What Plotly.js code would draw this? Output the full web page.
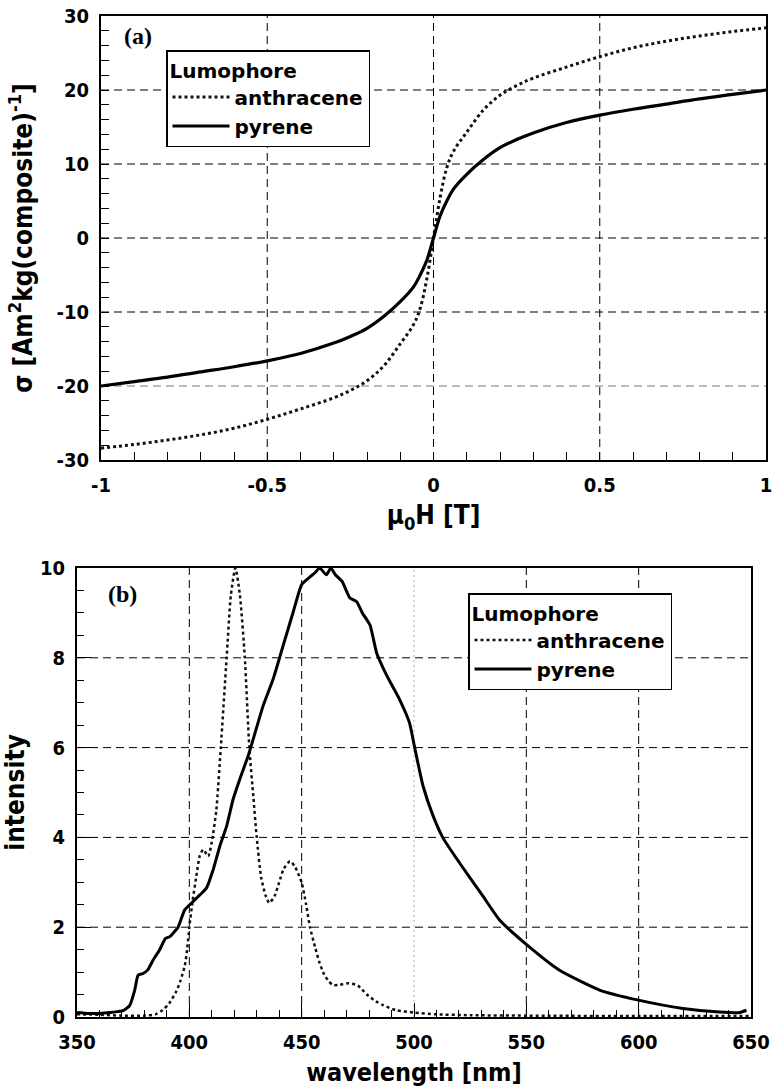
<!DOCTYPE html>
<html><head><meta charset="utf-8">
<script src="https://cdn.plot.ly/plotly-3.0.1.min.js"></script>
<style>html,body{margin:0;padding:0;background:#fff}#chart{width:772px;height:1091px}</style>
</head><body><div id="chart"></div>
<script>
// ---------- panel (a): magnetisation curves ----------
const fieldT = [-1, -0.9, -0.8, -0.7, -0.6, -0.5, -0.4, -0.3, -0.25, -0.2, -0.15, -0.1, -0.06, -0.04, -0.02, 0,
                0.02, 0.04, 0.06, 0.1, 0.15, 0.2, 0.25, 0.3, 0.4, 0.5, 0.6, 0.7, 0.8, 0.9, 1];
const magAnthracene = [-28.4, -27.9, -27.3, -26.6, -25.7, -24.5, -23.1, -21.6, -20.6, -19.3, -17.3, -14.3, -11.7, -9.5, -5.5, 0,
                       5.5, 9.5, 11.7, 14.3, 17.3, 19.3, 20.6, 21.6, 23.1, 24.5, 25.7, 26.6, 27.3, 27.9, 28.4];
const magPyrene = [-20.0, -19.4, -18.8, -18.1, -17.4, -16.6, -15.6, -14.2, -13.3, -12.2, -10.6, -8.6, -6.6, -5.0, -3.0, 0,
                   3.0, 5.0, 6.6, 8.6, 10.6, 12.2, 13.3, 14.2, 15.6, 16.6, 17.4, 18.1, 18.8, 19.4, 20.0];
const xTicksA = [-1, -0.5, 0, 0.5, 1];
const xTickTextA = ['-1', '-0.5', '0', '0.5', '1'];
const yTicksA = [-30, -20, -10, 0, 10, 20, 30];
const yTickTextA = ['-30', '-20', '-10', '0', '10', '20', '30'];
const gridXA = [-0.5, 0, 0.5];
const gridYA = [-20, -10, 0, 10, 20];

// ---------- panel (b): emission spectra ----------
const wlAnthracene = [350, 360, 370, 380, 385, 388, 391, 394, 396, 398, 399, 400, 401.5, 403, 404.7, 406.2, 408.4, 410, 412, 414,
                      416.6, 418.5, 420.5, 422.5, 424.7, 426.7, 428.5, 430, 432, 434, 435.6, 438, 440, 442, 444.8, 447, 450,
                      452, 453.7, 456, 458, 460, 462, 464, 467, 471, 475, 479, 483, 486.4, 492, 500, 510, 525, 550, 600, 650];
const intAnthracene = [0.06, 0.05, 0.03, 0.03, 0.06, 0.15, 0.3, 0.55, 0.8, 1.15, 1.5, 2.0, 2.6, 3.1, 3.6, 3.73, 3.58, 3.9, 4.6, 6.0,
                       8.0, 9.4, 10.0, 9.4, 8.0, 6.0, 4.9, 4.0, 3.1, 2.7, 2.54, 2.7, 3.0, 3.3, 3.47, 3.35, 2.99,
                       2.5, 2.0, 1.55, 1.2, 0.95, 0.8, 0.71, 0.72, 0.75, 0.7, 0.5, 0.35, 0.26, 0.15, 0.1, 0.06, 0.04, 0.03, 0.02, 0.02];
const wlPyrene = [350, 355, 360, 365, 368, 370.5, 373.5, 375.7, 377.2, 379.4, 381.5, 383.9, 386.8, 389.4, 391.3, 393, 395, 398, 401,
                  404.7, 407.6, 410.6, 413.6, 416.6, 419.5, 422.5, 426.2, 428.5, 432.9, 437.4, 441.8, 446.3, 450, 453.7, 456, 458, 461,
                  463, 465, 468, 471.5, 474.5, 477, 480.4, 483.4, 486, 489.4, 493.6, 498, 500.3, 504, 508.5, 512.9, 520.3, 530.7, 538.1,
                  550.4, 564.8, 582.6, 600.4, 619.7, 636, 645, 648];
const intPyrene = [0.1, 0.08, 0.08, 0.1, 0.12, 0.14, 0.26, 0.6, 0.93, 0.97, 1.05, 1.27, 1.5, 1.75, 1.79, 1.88, 2.0, 2.39, 2.54,
                   2.72, 2.87, 3.28, 3.81, 4.25, 4.85, 5.3, 5.82, 6.2, 6.94, 7.54, 8.28, 9.03, 9.63, 9.8, 9.9, 10.0, 9.85,
                   10.0, 9.85, 9.7, 9.33, 9.25, 9.0, 8.73, 8.1, 7.8, 7.46, 7.07, 6.55, 6.0, 5.15, 4.48, 3.99, 3.43, 2.69, 2.16,
                   1.6, 1.04, 0.6, 0.37, 0.19, 0.11, 0.1, 0.15];
const xTicksB = [350, 400, 450, 500, 550, 600, 650];
const yTicksB = [0, 2, 4, 6, 8, 10];
const gridXB = [400, 450, 500, 550, 600];
const gridYB = [2, 4, 6, 8];

const seriesNames = ['anthracene', 'pyrene'];
const legendTitle = 'Lumophore';

// ---------- styling ----------
const fam = '"Liberation Sans Narrow", "DejaVu Sans Condensed", "Liberation Sans", Arial, sans-serif';
const tickFont = {family: fam, size: 20, color: '#000', weight: 'bold'};
const titleFont = {family: fam, size: 26, color: '#000', weight: 'bold'};
const legFont = {family: '"DejaVu Sans", "Liberation Sans", Arial, sans-serif', size: 20, color: '#000', weight: 'bold'};
const serif = {family: '"Liberation Serif", "Times New Roman", serif', size: 24, color: '#000', weight: 'bold'};

const axBase = {
  showline: true, linecolor: '#000', linewidth: 2, mirror: true,
  ticks: 'inside', ticklen: 8, tickwidth: 1, tickcolor: '#000',
  showgrid: false, zeroline: false, tickfont: tickFont, ticklabelstandoff: 6,
  ticklabeloverflow: 'allow', tickmode: 'array', fixedrange: true
};

const traces = [
  {x: fieldT, y: magAnthracene, xaxis: 'x', yaxis: 'y', name: seriesNames[0], mode: 'lines', legend: 'legend',
   line: {color: '#111', width: 3, dash: 'dot', shape: 'spline'}},
  {x: fieldT, y: magPyrene, xaxis: 'x', yaxis: 'y', name: seriesNames[1], mode: 'lines', legend: 'legend',
   line: {color: '#000', width: 3.2, shape: 'spline'}},
  {x: wlAnthracene, y: intAnthracene, xaxis: 'x2', yaxis: 'y2', name: seriesNames[0], mode: 'lines', legend: 'legend2',
   line: {color: '#111', width: 2.5, dash: 'dot', shape: 'spline', smoothing: 0.6}},
  {x: wlPyrene, y: intPyrene, xaxis: 'x2', yaxis: 'y2', name: seriesNames[1], mode: 'lines', legend: 'legend2',
   line: {color: '#000', width: 3, shape: 'spline', smoothing: 0.5}}
];

const shapes = [];
const gdash = '8px,5px';
gridXA.forEach(v => shapes.push({type: 'line', xref: 'x', yref: 'y domain', x0: v, x1: v, y0: 0, y1: 1, layer: 'below',
  line: {color: '#000', width: 1, dash: gdash}}));
gridYA.forEach(v => shapes.push({type: 'line', xref: 'x domain', yref: 'y', x0: 0, x1: 1, y0: v, y1: v, layer: 'below',
  line: {color: v === -20 ? '#777' : '#000', width: 1, dash: gdash}}));
gridXB.forEach(v => shapes.push({type: 'line', xref: 'x2', yref: 'y2 domain', x0: v, x1: v, y0: 0, y1: 1, layer: 'below',
  line: {color: v === 500 ? '#aaa' : '#000', width: 1, dash: v === 500 ? '2px,3px' : gdash}}));
gridYB.forEach(v => shapes.push({type: 'line', xref: 'x2 domain', yref: 'y2', x0: 0, x1: 1, y0: v, y1: v, layer: 'below',
  line: {color: '#000', width: 1, dash: gdash}}));

const W = 772, H = 1091;
const legendBase = {
  xanchor: 'left', yanchor: 'top', bgcolor: '#fff', bordercolor: '#000', borderwidth: 1.5,
  font: legFont, title: {text: legendTitle, font: legFont}, tracegroupgap: 0, itemwidth: 57
};
const layout = {
  width: W, height: H,
  margin: {l: 0, r: 0, t: 0, b: 0},
  paper_bgcolor: '#fff', plot_bgcolor: '#fff',
  showlegend: true,
  xaxis: Object.assign({}, axBase, {
    domain: [101 / W, 766 / W], anchor: 'y', range: [-1, 1],
    tickvals: xTicksA, ticktext: xTickTextA,
    minor: {tickmode: 'linear', tick0: -1, dtick: 0.1, ticks: 'inside', ticklen: 8, tickcolor: '#000', showgrid: false},
    title: {text: 'μ<sub>0</sub>H [T]', font: titleFont, standoff: 10}
  }),
  yaxis: Object.assign({}, axBase, {
    domain: [1 - 460 / H, 1 - 16 / H], anchor: 'x', range: [-30, 30],
    tickvals: yTicksA, ticktext: yTickTextA,
    minor: {tickmode: 'linear', tick0: -30, dtick: 2, ticks: 'inside', ticklen: 8, tickcolor: '#000', showgrid: false},
    title: {text: 'σ [Am<sup>2</sup>kg(composite)<sup>-1</sup>]', font: titleFont, standoff: 16}
  }),
  xaxis2: Object.assign({}, axBase, {
    domain: [77 / W, 751 / W], anchor: 'y2', range: [350, 650],
    tickvals: xTicksB, ticktext: xTicksB.map(String), ticklen: 14,
    minor: {tickmode: 'linear', tick0: 350, dtick: 10, ticks: 'inside', ticklen: 7, tickcolor: '#000', showgrid: false},
    title: {text: 'wavelength [nm]', font: {family: fam, size: 25, color: '#000', weight: 'bold'}, standoff: 10}
  }),
  yaxis2: Object.assign({}, axBase, {
    domain: [1 - 1017 / H, 1 - 568 / H], anchor: 'x2', range: [0, 10],
    tickvals: yTicksB, ticktext: yTicksB.map(String), ticklen: 14,
    minor: {tickmode: 'linear', tick0: 0, dtick: 0.5, ticks: 'inside', ticklen: 7, tickcolor: '#000', showgrid: false},
    title: {text: 'intensity', font: titleFont, standoff: 18}
  }),
  legend: Object.assign({}, legendBase, {x: 166 / W, y: 1 - 50 / H}),
  legend2: Object.assign({}, legendBase, {x: 468 / W, y: 1 - 593 / H}),
  shapes: shapes,
  annotations: [
    {text: '(a)', xref: 'paper', yref: 'paper', x: 138 / W, y: 1 - 36 / H, xanchor: 'center', yanchor: 'middle',
     showarrow: false, font: serif},
    {text: '(b)', xref: 'paper', yref: 'paper', x: 122 / W, y: 1 - 594 / H, xanchor: 'center', yanchor: 'middle',
     showarrow: false, font: serif}
  ]
};

Plotly.newPlot('chart', traces, layout, {staticPlot: true, displayModeBar: false});
</script>
</body></html>
